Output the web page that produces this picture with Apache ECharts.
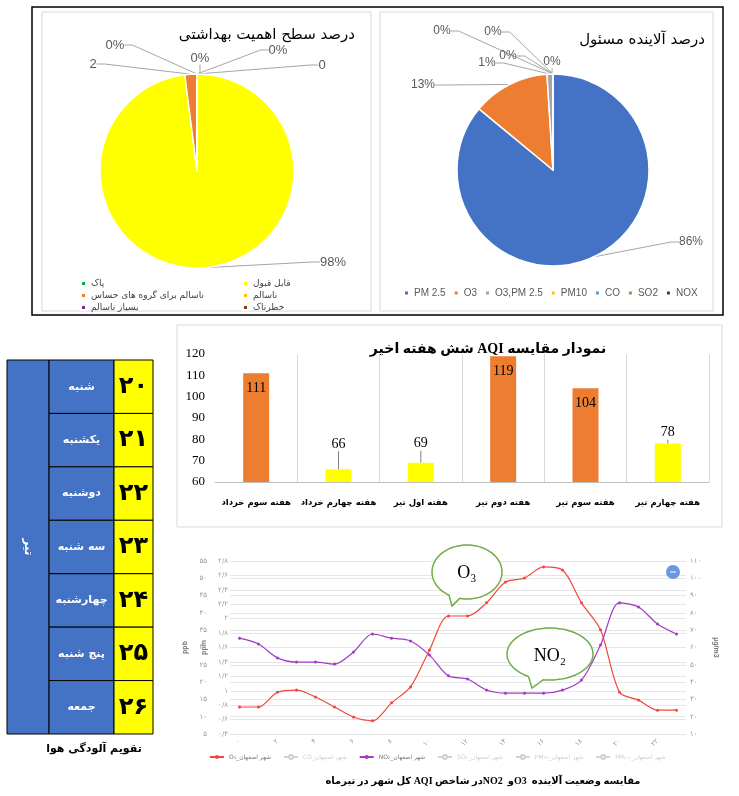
<!DOCTYPE html>
<html>
<head>
<meta charset="utf-8">
<script src="https://cdn.jsdelivr.net/npm/echarts@6/dist/echarts.min.js"></script>
<style>
  html, body { margin: 0; padding: 0; background: #fff; }
  #main { width: 739px; height: 796px; }
</style>
</head>
<body>
<div id="main" dir="rtl"></div>
<script>
// --- data ---
const healthNames = ['پاک', 'قابل قبول', 'ناسالم برای گروه های حساس', 'ناسالم', 'بسیار ناسالم', 'خطرناک'];
const healthValues = [0, 98, 2, 0, 0, 0];
const healthLabels = ['0%', '98%', '2', '0%', '0%', '0'];

const pollutantNames = ['PM 2.5', 'O3', 'O3,PM 2.5', 'PM10', 'CO', 'SO2', 'NOX'];
const pollutantValues = [86, 13, 1, 0, 0, 0, 0];

const weeks = ['هفته سوم خرداد', 'هفته چهارم خرداد', 'هفته اول تیر', 'هفته دوم تیر', 'هفته سوم تیر', 'هفته چهارم تیر'];
const aqiValues = [111, 66, 69, 119, 104, 78];

const monthName = 'تیر';
const dayNames = ['شنبه', 'یکشنبه', 'دوشنبه', 'سه شنبه', 'چهارشنبه', 'پنج شنبه', 'جمعه'];
const dayDates = ['۲۰', '۲۱', '۲۲', '۲۳', '۲۴', '۲۵', '۲۶'];

const hours = ['۰', '۱', '۲', '۳', '۴', '۵', '۶', '۷', '۸', '۹', '۱۰', '۱۱',
  '۱۲', '۱۳', '۱۴', '۱۵', '۱۶', '۱۷', '۱۸', '۱۹', '۲۰', '۲۱', '۲۲', '۲۳'];
const o3Values = [12.8, 12.8, 17.1, 17.7, 15.7, 12.8, 9.9, 8.8, 14.0, 18.6, 29.3, 39.1,
  39.1, 42.9, 48.9, 50.1, 53.3, 52.4, 42.9, 35.1, 17.1, 14.8, 11.9, 11.9];
const no2Values = [32.7, 31.0, 27.0, 25.8, 25.8, 25.2, 28.7, 33.9, 32.7, 31.9, 27.8, 21.8,
  20.9, 17.7, 16.8, 16.8, 16.8, 17.7, 20.6, 30.7, 42.9, 41.7, 36.8, 33.9];
const lineNames = ['شهر اصفهان_O₃', 'شهر اصفهان_CO', 'شهر اصفهان_NO₂', 'شهر اصفهان_SO₂', 'شهر اصفهان_PM₁₀', 'شهر اصفهان_PM₂.₅'];

// --- styles ---
const healthColors = ['#00B050', '#FFFF00', '#ED7D31', '#FFC000', '#7030A0', '#843C0C'];
const pollutantColors = ['#4472C4', '#ED7D31', '#A5A5A5', '#FFC000', '#5B9BD5', '#70AD47', '#264478'];
const healthLabelPos = [[200, 58], [333, 262], [93, 64], [115, 45], [278, 50], [322, 65]];
const pollutantLabelPos = [[691, 242], [423, 85], [487, 63], [508, 56], [442, 31], [493, 32], [552, 62]];
const barLabelDy = [0, -14, -8, 0, 0, 0];
const FA = '"DejaVu Sans"';
const SERIF = '"Liberation Serif", "DejaVu Sans"';

const faDigits = '۰۱۲۳۴۵۶۷۸۹';
function toFa(v) {
  return String(v).replace(/\d/g, d => faDigits[d]).replace('.', '/');
}

// speech bubble outline (ellipse with a tail between two angles)
function bubble(cx, cy, rx, ry, a1, a2, tip) {
  const pts = [];
  let tailDone = false;
  for (let k = 0; k <= 72; k++) {
    const a = k * 5;
    if (a > a1 && a < a2) {
      if (!tailDone) {
        pts.push([cx + rx * Math.cos(a1 * Math.PI / 180), cy + ry * Math.sin(a1 * Math.PI / 180)]);
        pts.push(tip);
        pts.push([cx + rx * Math.cos(a2 * Math.PI / 180), cy + ry * Math.sin(a2 * Math.PI / 180)]);
        tailDone = true;
      }
      continue;
    }
    pts.push([cx + rx * Math.cos(a * Math.PI / 180), cy + ry * Math.sin(a * Math.PI / 180)]);
  }
  return pts;
}

const chart = echarts.init(document.getElementById('main'));

const lineAxisLabel = {fontSize: 7, color: '#9a9a9a', fontFamily: FA};

chart.setOption({
  animation: false,
  backgroundColor: '#fff',
  title: [
    {text: 'درصد سطح اهمیت بهداشتی', right: 379, top: 23,
      textStyle: {fontFamily: FA, fontSize: 15, fontWeight: 'normal', color: '#000'}},
    {text: 'درصد آلاینده مسئول', right: 29, top: 28,
      textStyle: {fontFamily: FA, fontSize: 15, fontWeight: 'normal', color: '#000'}},
    {text: 'نمودار مقایسه AQI شش هفته اخیر', left: 483, textAlign: 'center', top: 337,
      textStyle: {fontFamily: SERIF, fontSize: 14, fontWeight: 'bold', color: '#000'}},
    {text: 'تقویم آلودگی هوا', left: 89, textAlign: 'center', top: 739,
      textStyle: {fontFamily: FA, fontSize: 11, fontWeight: 'bold', color: '#000'}},
    {text: 'مقایسه وضعیت آلاینده  O3و  NO2در شاخص AQI کل شهر در تیرماه', left: 478, textAlign: 'center', top: 771,
      textStyle: {fontFamily: SERIF, fontSize: 10, fontWeight: 'bold', color: '#000'}}
  ],
  legend: [
    {data: [healthNames[0], healthNames[2], healthNames[4]], orient: 'vertical', left: 75, top: 274,
      itemWidth: 5, itemHeight: 5, itemGap: 3, icon: 'rect', selectedMode: false,
      textStyle: {fontFamily: FA, fontSize: 9, color: '#404040'}},
    {data: [healthNames[1], healthNames[3], healthNames[5]], orient: 'vertical', left: 237, top: 274,
      itemWidth: 5, itemHeight: 5, itemGap: 3, icon: 'rect', selectedMode: false,
      textStyle: {fontFamily: FA, fontSize: 9, color: '#404040'}},
    {data: pollutantNames, left: 398, top: 283, width: 330, itemWidth: 5, itemHeight: 5, itemGap: 7, icon: 'rect',
      selectedMode: false, textStyle: {fontFamily: '"Liberation Sans"', fontSize: 10, color: '#595959'}},
    {data: lineNames, left: 204, top: 749, width: 530, itemWidth: 14, itemHeight: 5, itemGap: 12,
      inactiveColor: '#cfcfcf',
      selected: {[lineNames[1]]: false, [lineNames[3]]: false, [lineNames[4]]: false, [lineNames[5]]: false},
      textStyle: {fontFamily: FA, fontSize: 6, color: '#777'}}
  ],
  grid: [
    {left: 215, top: 354, width: 494, height: 128},
    {left: 7, top: 360, width: 146, height: 374},
    {left: 230, top: 561, width: 456, height: 173}
  ],
  xAxis: [
    {gridIndex: 0, type: 'category', data: weeks,
      axisLine: {lineStyle: {color: '#bfbfbf'}}, axisTick: {show: false},
      splitLine: {show: true, showMinLine: false, lineStyle: {color: '#d9d9d9'}},
      axisLabel: {interval: 0, margin: 16, fontFamily: FA, fontSize: 8.5, fontWeight: 'bold', color: '#000'}},
    {gridIndex: 1, type: 'value', min: 0, max: 1, show: false},
    {gridIndex: 2, type: 'category', data: hours, boundaryGap: true,
      axisLine: {show: false}, axisTick: {show: false},
      axisLabel: Object.assign({interval: 1, rotate: 45, margin: 6}, lineAxisLabel)}
  ],
  yAxis: [
    {gridIndex: 0, type: 'value', min: 60, max: 120, interval: 10,
      axisLine: {show: false}, axisTick: {show: false}, splitLine: {show: false},
      axisLabel: {fontFamily: '"Liberation Serif"', fontSize: 13, color: '#000', margin: 10}},
    {gridIndex: 1, type: 'category', data: dayNames, inverse: true, show: false},
    {gridIndex: 2, type: 'value', position: 'left', offset: 21, min: 5, max: 55, interval: 5,
      name: 'ppb', nameLocation: 'middle', nameGap: 12,
      nameTextStyle: {fontSize: 7, color: '#777', fontWeight: 'bold'},
      axisLine: {show: false}, axisTick: {show: false},
      splitLine: {lineStyle: {color: '#e6e6e6'}},
      axisLabel: Object.assign({margin: 2, formatter: v => toFa(v)}, lineAxisLabel)},
    {gridIndex: 2, type: 'value', position: 'left', min: 0.4, max: 2.8, interval: 0.2,
      name: 'ppm', nameLocation: 'middle', nameGap: 14,
      nameTextStyle: {fontSize: 7, color: '#777', fontWeight: 'bold'},
      axisLine: {show: false}, axisTick: {show: false},
      splitLine: {lineStyle: {color: '#e6e6e6'}},
      axisLabel: Object.assign({margin: 2, formatter: v => toFa(+v.toFixed(1))}, lineAxisLabel)},
    {gridIndex: 2, type: 'value', position: 'right', min: 10, max: 110, interval: 10,
      name: 'µg/m3', nameLocation: 'middle', nameGap: 20, nameRotate: -90,
      nameTextStyle: {fontSize: 7, color: '#777', fontWeight: 'bold'},
      axisLine: {show: false}, axisTick: {show: false}, splitLine: {show: false},
      axisLabel: Object.assign({margin: 4, formatter: v => toFa(v)}, lineAxisLabel)}
  ],
  graphic: [
    {type: 'rect', shape: {x: 32, y: 7, width: 691, height: 308}, style: {fill: 'none', stroke: '#000', lineWidth: 1.5}},
    {type: 'rect', shape: {x: 42, y: 12, width: 329, height: 299}, style: {fill: 'none', stroke: '#d9d9d9', lineWidth: 1}},
    {type: 'rect', shape: {x: 380, y: 12, width: 333, height: 299}, style: {fill: 'none', stroke: '#d9d9d9', lineWidth: 1}},
    {type: 'rect', shape: {x: 177, y: 325, width: 545, height: 202}, style: {fill: 'none', stroke: '#d9d9d9', lineWidth: 1}},
    {type: 'polygon', z: 100, shape: {points: bubble(467, 572, 35, 27, 102, 121, [452, 606])},
      style: {fill: '#fff', stroke: '#70AD47', lineWidth: 1.5}},
    {type: 'text', z: 101, style: {text: 'O₃', x: 467, y: 573, textAlign: 'center', textVerticalAlign: 'middle',
      font: '18px "Liberation Serif"', fill: '#000'}},
    {type: 'polygon', z: 100, shape: {points: bubble(550, 654, 43, 26, 99, 120, [532, 688])},
      style: {fill: '#fff', stroke: '#70AD47', lineWidth: 1.5}},
    {type: 'text', z: 101, style: {text: 'NO₂', x: 550, y: 656, textAlign: 'center', textVerticalAlign: 'middle',
      font: '18px "Liberation Serif"', fill: '#000'}},
    {type: 'circle', z: 100, shape: {cx: 673, cy: 572, r: 7}, style: {fill: '#6b96e3'}},
    {type: 'line', z: 101, shape: {x1: 670, y1: 572, x2: 676, y2: 572}, style: {stroke: '#fff', lineWidth: 1}}
  ],
  series: [
    {
      type: 'pie', name: 'health', center: [197, 171], radius: 97, startAngle: 90, clockwise: true,
      avoidLabelOverlap: false, silent: true,
      itemStyle: {borderColor: '#fff', borderWidth: 1.5},
      label: {show: true, fontFamily: '"Liberation Sans"', fontSize: 13, color: '#595959'},
      labelLine: {show: true, length: 8, length2: 8, lineStyle: {color: '#a6a6a6', width: 1}},
      labelLayout: p => ({x: healthLabelPos[p.dataIndex][0], y: healthLabelPos[p.dataIndex][1],
        align: 'center', verticalAlign: 'middle'}),
      data: healthNames.map((n, i) => ({name: n, value: healthValues[i],
        itemStyle: {color: healthColors[i]}, label: {formatter: healthLabels[i]}}))
    },
    {
      type: 'pie', name: 'pollutant', center: [553, 170], radius: 96, startAngle: 90, clockwise: true,
      avoidLabelOverlap: false, silent: true,
      itemStyle: {borderColor: '#fff', borderWidth: 1.5},
      label: {show: true, formatter: '{d}%', fontFamily: '"Liberation Sans"', fontSize: 12, color: '#595959'},
      labelLine: {show: true, length: 8, length2: 8, lineStyle: {color: '#a6a6a6', width: 1}},
      labelLayout: p => ({x: pollutantLabelPos[p.dataIndex][0], y: pollutantLabelPos[p.dataIndex][1],
        align: 'center', verticalAlign: 'middle'}),
      data: pollutantNames.map((n, i) => ({name: n, value: pollutantValues[i],
        itemStyle: {color: pollutantColors[i]}}))
    },
    {
      type: 'bar', name: 'AQI', xAxisIndex: 0, yAxisIndex: 0, barWidth: 26, silent: true,
      label: {show: true, fontFamily: '"Liberation Serif"', fontSize: 14, color: '#000', distance: 8},
      labelLine: {show: true, lineStyle: {color: '#7f7f7f', width: 1}},
      labelLayout: p => ({dy: barLabelDy[p.dataIndex]}),
      data: aqiValues.map(v => ({value: v,
        itemStyle: {color: v > 100 ? '#ED7D31' : '#FFFF00'},
        label: {position: v > 100 ? 'insideTop' : 'top', distance: v > 100 ? 8 : 4}}))
    },
    {
      type: 'custom', name: 'month', xAxisIndex: 1, yAxisIndex: 1, silent: true,
      data: [[0, 0]],
      renderItem: (params, api) => {
        const cs = params.coordSys;
        const w = cs.width * 0.288;
        return {type: 'group', children: [
          {type: 'rect', shape: {x: cs.x, y: cs.y, width: w, height: cs.height},
            style: {fill: '#4472C4', stroke: '#000', lineWidth: 1}},
          {type: 'text', x: cs.x + w / 2, y: cs.y + cs.height / 2, rotation: -Math.PI / 2,
            style: {text: monthName, x: 0, y: 0, textAlign: 'center', textVerticalAlign: 'middle',
              fill: '#fff', font: 'bold 12px ' + FA}}
        ]};
      }
    },
    {
      type: 'custom', name: 'days', xAxisIndex: 1, yAxisIndex: 1, silent: true,
      data: dayNames.map((n, i) => [0, i]),
      renderItem: (params, api) => {
        const i = api.value(1);
        const mid = api.coord([0, i])[1];
        const h = api.size([0, 1])[1];
        const cs = params.coordSys;
        const xa = cs.x + cs.width * 0.288, xb = cs.x + cs.width * 0.733, xe = cs.x + cs.width;
        return {type: 'group', children: [
          {type: 'rect', shape: {x: xa, y: mid - h / 2, width: xb - xa, height: h},
            style: {fill: '#4472C4', stroke: '#000', lineWidth: 1}},
          {type: 'rect', shape: {x: xb, y: mid - h / 2, width: xe - xb, height: h},
            style: {fill: '#FFFF00', stroke: '#000', lineWidth: 1}},
          {type: 'text', style: {text: dayNames[i], x: (xa + xb) / 2, y: mid, textAlign: 'center',
            textVerticalAlign: 'middle', fill: '#fff', font: 'bold 11px ' + FA}},
          {type: 'text', style: {text: dayDates[i], x: (xb + xe) / 2, y: mid, textAlign: 'center',
            textVerticalAlign: 'middle', fill: '#000', font: 'bold 24px ' + FA}}
        ]};
      }
    },
    {name: lineNames[0], type: 'line', xAxisIndex: 2, yAxisIndex: 2, data: o3Values, smooth: 0.3,
      symbol: 'circle', symbolSize: 3, color: '#f0473e', lineStyle: {width: 1.2}},
    {name: lineNames[1], type: 'line', xAxisIndex: 2, yAxisIndex: 2, data: [], color: '#bdbdbd'},
    {name: lineNames[2], type: 'line', xAxisIndex: 2, yAxisIndex: 2, data: no2Values, smooth: 0.3,
      symbol: 'circle', symbolSize: 3, color: '#a13bc2', lineStyle: {width: 1.2}},
    {name: lineNames[3], type: 'line', xAxisIndex: 2, yAxisIndex: 2, data: [], color: '#bdbdbd'},
    {name: lineNames[4], type: 'line', xAxisIndex: 2, yAxisIndex: 2, data: [], color: '#bdbdbd'},
    {name: lineNames[5], type: 'line', xAxisIndex: 2, yAxisIndex: 2, data: [], color: '#bdbdbd'}
  ]
});
</script>
</body>
</html>
